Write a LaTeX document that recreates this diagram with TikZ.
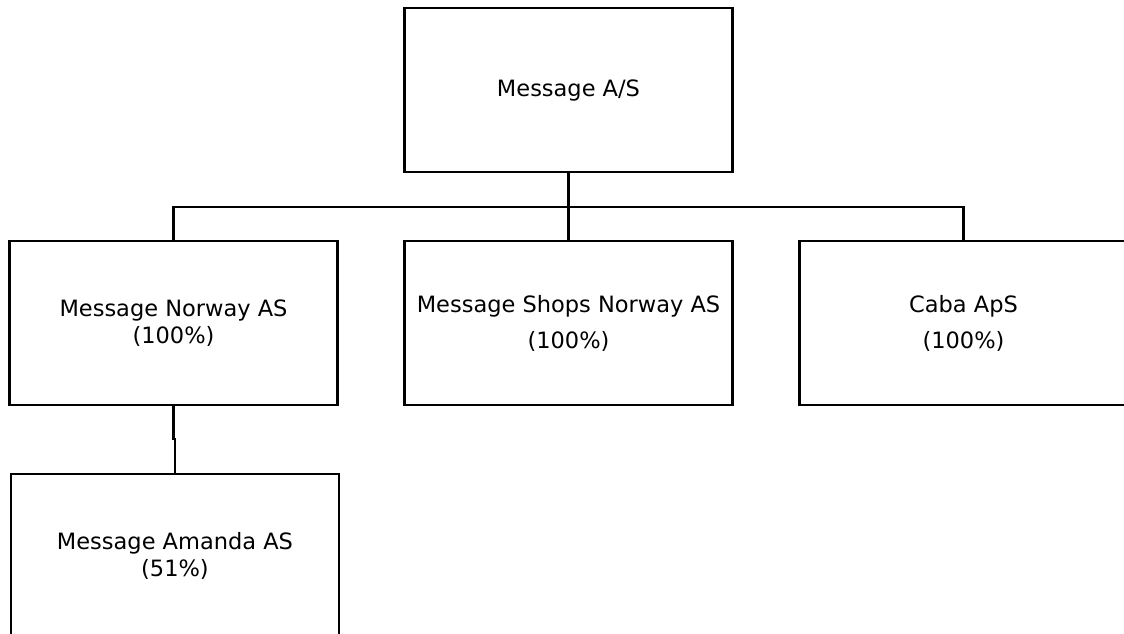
\documentclass[tikz,border=0pt]{standalone}
\usepackage{fontspec}
\setmainfont{DejaVu Sans}
\usetikzlibrary{positioning}

\begin{document}
\begin{tikzpicture}[line width=2.4pt,
		unit/.style={draw,rectangle,outer sep=0pt,minimum width=328pt,minimum height=164pt,align=center,font=\fontsize{22.5}{27}\selectfont}]
		\useasboundingbox (0,0) rectangle (1124pt,-634pt);
		\clip (0,0) rectangle (1124pt,-634pt);
		\node[unit] (top) at (568.5pt,-90pt) {Message A/S};
		\node[unit,below=69pt of top] (shops) {Message Shops Norway AS\\[9pt](100\%)};
		\node[unit,left=67pt of shops] (nor) {Message Norway AS\\(100\%)};
		\node[unit,right=67pt of shops] (caba) {Caba ApS\\[9pt](100\%)};
		\node[unit,below=69pt of nor,xshift=1.5pt] (ama) {Message Amanda AS\\(51\%)};
		\draw (top.south) -- ++(0,-35pt) coordinate (bus);
		\draw (nor.north) |- (bus) -| (caba.north);
		\draw (bus) -- (shops.north);
		\draw (nor.south) -- ++(0,-34pt) -| (ama.north);
		\end{tikzpicture}
\end{document}
